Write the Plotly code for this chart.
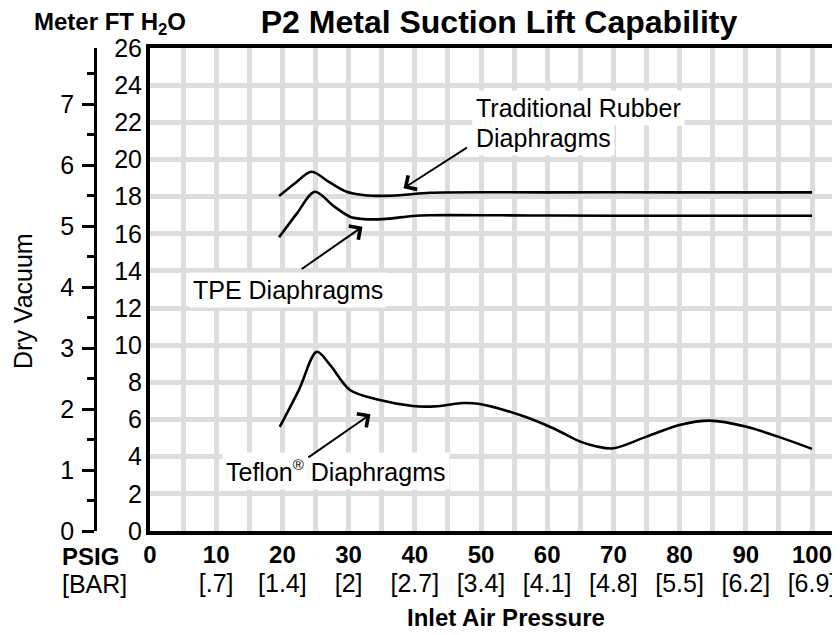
import plotly.graph_objects as go

# page has an 8px body margin: the figure is drawn 8px right/down of the window origin
OFF = 8
W, H = 840 - OFF, 635 - OFF
FT_PER_M = 3.28084

# ---- data ----
psig_rubber = [19.5, 22.0, 24.4, 27.2, 29.7, 32.2, 35.2, 38.5, 42.3, 60.0, 80.0, 100.0]
ft_rubber = [18.03, 18.75, 19.34, 18.75, 18.26, 18.09, 18.04, 18.1, 18.21, 18.23, 18.23, 18.23]

psig_tpe = [19.5, 22.2, 24.9, 27.7, 30.2, 32.2, 35.2, 39.7, 42.3, 60.0, 80.0, 100.0]
ft_tpe = [15.81, 17.1, 18.26, 17.5, 16.92, 16.79, 16.79, 16.96, 17.0, 16.98, 16.97, 16.97]

psig_teflon = [19.6, 22.5, 25.2, 27.2, 30.2, 34.7, 39.7, 43.0, 47.3, 49.8, 55.9, 60.9,
               65.0, 67.5, 70.0, 75.0, 80.0, 84.6, 90.1, 95.2, 100.0]
ft_teflon = [5.61, 7.6, 9.65, 8.94, 7.59, 7.05, 6.73, 6.71, 6.89, 6.84, 6.24, 5.53,
             4.81, 4.55, 4.45, 5.08, 5.71, 5.94, 5.61, 5.04, 4.42]

psig_ticks = [0, 10, 20, 30, 40, 50, 60, 70, 80, 90, 100]
psig_labels = ["0", "10", "20", "30", "40", "50", "60", "70", "80", "90", "100"]
bar_labels = ["", "[.7]", "[1.4]", "[2]", "[2.7]", "[3.4]", "[4.1]", "[4.8]", "[5.5]", "[6.2]", "[6.9]"]
ft_ticks = list(range(0, 27, 2))
m_ticks = list(range(0, 8))

# ---- layout geometry (page pixels) ----
PX_L, PX_R, PX_T, PX_B = 150, 840, 48, 531
X_MAX = (PX_R - PX_L) / 6.62
Y_MAX = 26


def fx(p):
    return (p - OFF) / W


def fy(p):
    return 1 - (p - OFF) / H


FONT = "Liberation Sans, Arial, Helvetica, sans-serif"
GRID = "#dddddd"
FS = 25
FB = 24

fig = go.Figure()
line_style = dict(color="black", width=2.6, shape="spline", smoothing=0.9)
for xs, ys in [(psig_rubber, ft_rubber), (psig_tpe, ft_tpe), (psig_teflon, ft_teflon)]:
    fig.add_trace(go.Scatter(x=xs, y=ys, mode="lines", line=line_style,
                             showlegend=False, hoverinfo="skip"))

# invisible companions so the secondary axes are drawn
fig.add_trace(go.Scatter(x=psig_teflon, y=[v / FT_PER_M for v in ft_teflon], yaxis="y2",
                         mode="lines", line=dict(color="rgba(0,0,0,0)"),
                         showlegend=False, hoverinfo="skip"))
fig.add_trace(go.Scatter(x=psig_teflon, y=ft_teflon, xaxis="x2",
                         mode="lines", line=dict(color="rgba(0,0,0,0)"),
                         showlegend=False, hoverinfo="skip"))

fig.update_layout(
    width=W, height=H,
    margin=dict(l=0, r=0, t=0, b=0),
    paper_bgcolor="white", plot_bgcolor="white",
    showlegend=False,
    title=dict(text="<b>P2 Metal Suction Lift Capability</b>",
               font=dict(family=FONT, size=32, color="black"),
               x=fx(499), xanchor="center", y=fy(22), yanchor="middle"),
    xaxis=dict(domain=[fx(PX_L), 1], range=[0, X_MAX], automargin=False,
               tickvals=psig_ticks, ticktext=["<b>%s</b>" % t for t in psig_labels],
               tickfont=dict(family=FONT, size=FB, color="black"),
               ticks="", ticklabelstandoff=-1, ticklabeloverflow="allow",
               showgrid=True, gridcolor=GRID, gridwidth=5,
               minor=dict(dtick=5, tick0=0, showgrid=True, gridcolor=GRID, gridwidth=5, ticks=""),
               showline=True, linecolor="black", linewidth=4, mirror=True,
               zeroline=False),
    xaxis2=dict(overlaying="x", anchor="y", side="bottom", range=[0, X_MAX], automargin=False,
                tickvals=psig_ticks, ticktext=bar_labels,
                tickfont=dict(family=FONT, size=FS, color="black"),
                ticks="", ticklabelstandoff=35, ticklabeloverflow="allow",
                showgrid=False, showline=False, zeroline=False),
    yaxis=dict(domain=[fy(PX_B), fy(PX_T)], range=[0, Y_MAX], automargin=False,
               tickvals=ft_ticks, tickfont=dict(family=FONT, size=FS, color="black"),
               ticks="", ticklabelstandoff=-1,
               showgrid=True, gridcolor=GRID, gridwidth=4.5,
               showline=True, linecolor="black", linewidth=4,
               zeroline=False),
    yaxis2=dict(overlaying="y", anchor="free", position=fx(95), side="left",
                range=[0, Y_MAX / FT_PER_M], automargin=False,
                tickvals=m_ticks, tickfont=dict(family=FONT, size=FS, color="black"),
                ticks="outside", ticklen=12, tickwidth=2.5, tickcolor="black",
                ticklabelstandoff=3,
                minor=dict(dtick=0.5, tick0=0, ticks="outside", ticklen=7,
                           tickwidth=2.5, tickcolor="black", showgrid=False),
                showgrid=False, zeroline=False,
                showline=True, linecolor="black", linewidth=2.5),
)

ann = []


def text(t, x, y, xanchor="left", bold=False, size=FS, bg=None, angle=0):
    d = dict(text=("<b>%s</b>" % t) if bold else t, xref="paper", yref="paper",
             x=fx(x), y=fy(y), xanchor=xanchor, yanchor="middle", showarrow=False,
             font=dict(family=FONT, size=size, color="black"), textangle=angle)
    if bg:
        d.update(bgcolor=bg, borderpad=3)
    ann.append(d)


text("Meter FT H<sub>2</sub>O", 32, 24, bold=True, size=FB)
text("PSIG", 60, 556, bold=True, size=FB)
text("[BAR]", 60, 584, size=FS)
text("Dry Vacuum", 23, 301, xanchor="center", angle=-90)
text("Inlet Air Pressure", 506, 617, xanchor="center", bold=True, size=FB)
text("Traditional Rubber", 472, 108, bg="white")
text("Diaphragms", 472, 138, bg="white")
text("TPE Diaphragms", 189, 290, bg="white")
text('Teflon<sup><span style="font-size:15px">®</span></sup> Diaphragms', 222, 471, bg="white")

# arrows: (tip psig, tip ft, tail psig, tail ft)
arrows = [(38.3, 18.45, 48.1, 20.69), (32.1, 16.38, 22.7, 14.05), (33.3, 6.28, 23.7, 3.91)]
for tx, ty, sx, sy in arrows:
    ann.append(dict(text="", x=tx, y=ty, xref="x", yref="y", ax=sx, ay=sy,
                    axref="x", ayref="y", showarrow=True, arrowhead=4,
                    arrowsize=1.6, arrowwidth=2, arrowcolor="black"))

fig.update_layout(annotations=ann)
fig.write_html("out.html")
